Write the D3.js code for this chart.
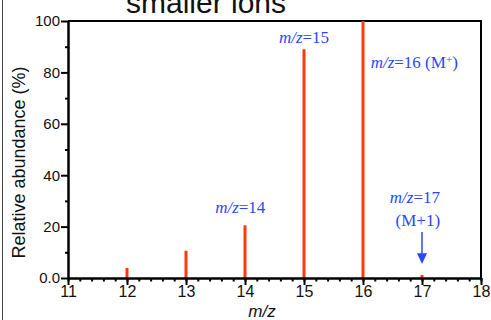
<!DOCTYPE html>
<html>
<head>
<meta charset="utf-8">
<script src="https://cdn.jsdelivr.net/npm/d3@7"></script>
<style>
  body { margin: 0; background: #fff; }
  svg { display: block; font-family: "Liberation Sans", Arial, Helvetica, sans-serif; }
</style>
</head>
<body>
<div id="grafico"></div>
<script>
// datos del espectro
const masas = [12, 13, 14, 15, 16, 17];
const abundancias = [3.9, 10.6, 20.5, 89, 100, 1.2];
const ticksY = [0, 20, 40, 60, 80, 100];
const ticksYMenores = [10, 30, 50, 70, 90];
const ticksX = [11, 12, 13, 14, 15, 16, 17, 18];

// etiquetas: posicion x en m/z, valor y, texto tras "m/z", ancla
const etiquetas = [
  { mz: 13.92, y: 25.3, resto: "=14", ancla: "middle" },
  { mz: 15.0, y: 91.5, resto: "=15", ancla: "middle" },
  { mz: 16.13, y: 81.8, resto: "=16 (M", sup: "+", cierre: ")", ancla: "start" },
  { mz: 16.88, y: 29.2, resto: "=17", ancla: "middle" }
];

const width = 491, height = 320;
const margin = { top: 21, right: 10, bottom: 42, left: 68 };

const svg = d3.select('#grafico')
  .append('svg')
  .attr('width', width)
  .attr('height', height);

const x = d3.scaleLinear().domain([11, 18]).range([margin.left, width - margin.right]);
const y = d3.scaleLinear().domain([0, 100]).range([height - margin.bottom, margin.top]);

// titulo cortado arriba
svg.append('text')
  .attr('x', 126)
  .attr('y', 13)
  .style('font-size', '30px')
  .attr('fill', '#111')
  .text('smaller ions');

// borde izquierdo exterior
svg.append('line')
  .attr('x1', 2.5).attr('x2', 2.5)
  .attr('y1', 0).attr('y2', height)
  .attr('stroke', '#444')
  .attr('stroke-width', 1);

// marco arriba y derecha
svg.append('path')
  .attr('d', `M${x(11)},${y(100)}H${x(18)}V${y(0)}`)
  .attr('fill', 'none')
  .attr('stroke', '#000')
  .attr('stroke-width', 2);

// barras
svg.selectAll('.barra')
  .data(masas)
  .enter().append('line')
  .attr('class', 'barra')
  .attr('x1', d => x(d)).attr('x2', d => x(d))
  .attr('y1', y(0))
  .attr('y2', (d, i) => y(abundancias[i]))
  .attr('stroke', '#ff3a0a')
  .attr('stroke-width', 3);

// eje X: menores cada 0.2
const gx = svg.append('g').attr('transform', `translate(0,${y(0)})`);
gx.call(d3.axisBottom(x).tickValues(d3.range(11, 18.01, 0.2)).tickSize(3.5).tickFormat(''))
  .call(g => g.select('.domain').remove());
gx.append('g').call(d3.axisBottom(x).tickValues(ticksX).tickSize(7).tickSizeOuter(0).tickFormat(d3.format('d')))
  .call(g => g.select('.domain').attr('stroke-width', 2.5))
  .selectAll('text')
  .attr('y', 6)
  .attr('dy', '0.8em')
  .style('font-size', '16px')
  .attr('fill', '#111');
gx.selectAll('line').attr('stroke-width', 2);

// eje Y
const gy = svg.append('g').attr('transform', `translate(${x(11)},0)`);
gy.call(d3.axisLeft(y).tickValues(ticksYMenores).tickSize(3).tickFormat(''))
  .call(g => g.select('.domain').remove());
gy.append('g').call(d3.axisLeft(y).tickValues(ticksY).tickSize(7).tickSizeOuter(0)
    .tickFormat(d => d === 0 ? '0.0' : d3.format('d')(d)))
  .call(g => g.select('.domain').attr('stroke-width', 2.5))
  .selectAll('text')
  .attr('x', -8)
  .style('font-size', '15px')
  .attr('fill', '#111');
gy.selectAll('line').attr('stroke-width', 2);

// titulos de ejes
svg.append('text')
  .attr('transform', `translate(25,${(y(0) + y(100)) / 2 + 13}) rotate(-90)`)
  .attr('text-anchor', 'middle')
  .style('font-size', '18px')
  .attr('fill', '#111')
  .text('Relative abundance (%)');

svg.append('text')
  .attr('x', 262)
  .attr('y', 317)
  .attr('text-anchor', 'middle')
  .style('font-size', '17px')
  .style('font-style', 'italic')
  .attr('fill', '#111')
  .text('m/z');

// anotaciones en azul
const azul = '#2a47ff';
const serif = '"Liberation Serif", "Times New Roman", serif';
etiquetas.forEach(e => {
  const t = svg.append('text')
    .attr('x', x(e.mz))
    .attr('y', y(e.y))
    .attr('text-anchor', e.ancla)
    .style('font-family', serif)
    .style('font-size', '17px')
    .attr('fill', azul);
  t.append('tspan').style('font-style', 'italic').text('m/z');
  t.append('tspan').text(e.resto);
  if (e.sup) {
    t.append('tspan').attr('dy', -5).style('font-size', '11px').text(e.sup);
    t.append('tspan').attr('dy', 5).text(e.cierre);
  }
});

svg.append('text')
  .attr('x', x(16.93))
  .attr('y', y(20.3))
  .attr('text-anchor', 'middle')
  .style('font-family', serif)
  .style('font-size', '17px')
  .attr('fill', azul)
  .text('(M+1)');

// flecha hacia m/z 17
const fx = x(17);
svg.append('line')
  .attr('x1', fx).attr('x2', fx)
  .attr('y1', y(17.9)).attr('y2', y(8.5))
  .attr('stroke', azul)
  .attr('stroke-width', 1.5);
svg.append('path')
  .attr('d', `M${fx - 5},${y(9.6)}L${fx + 5},${y(9.6)}L${fx},${y(5.4)}Z`)
  .attr('fill', azul);
</script>
</body>
</html>
